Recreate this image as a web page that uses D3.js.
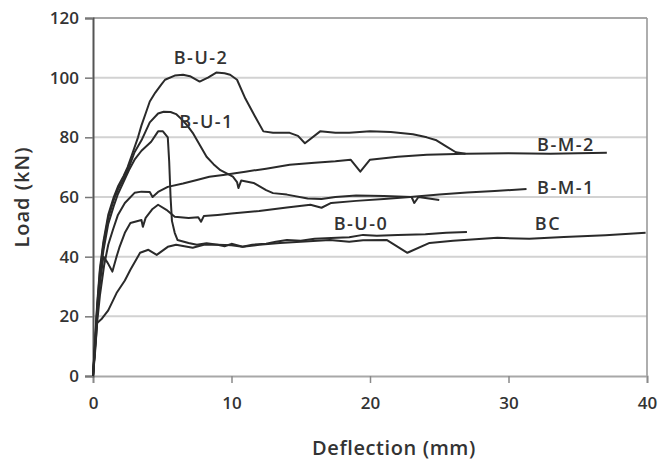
<!DOCTYPE html>
<html>
<head>
<meta charset="utf-8">
<script src="https://cdn.jsdelivr.net/npm/d3@7"></script>
<style>
  html, body { margin: 0; padding: 0; background: #fff; }
  svg { display: block; }
  text { font-family: "Open Sans", "Liberation Sans", sans-serif; }
</style>
</head>
<body>
<svg id="chart" width="658" height="461"></svg>
<script>
// ---- Data (deflection in mm, load in kN) ----
const xTicks = [0, 10, 20, 30, 40];
const yTicks = [0, 20, 40, 60, 80, 100, 120];
const xLabel = "Deflection (mm)";
const yLabel = "Load (kN)";

const seriesNames = ["B-U-2", "B-U-1", "B-U-0", "B-M-2", "B-M-1", "BC"];

const BU2 = [[0,0],[0.15,12],[0.3,24],[0.5,36],[0.75,45],[1.1,54],[1.5,60],[1.8,63.5],[2.2,67],[2.5,70],[2.8,74],[3.25,80],[3.5,84],[3.8,88],[4.1,92],[4.5,95],[4.9,97.5],[5.2,99.3],[5.9,100.7],[6.5,101],[7.0,100.5],[7.7,98.7],[8.3,100],[8.9,101.7],[9.5,101.5],[9.9,101],[10.4,99.3],[11.0,93],[11.7,87],[12.3,82],[13.0,81.5],[14.2,81.5],[14.8,80.5],[15.3,78],[16.4,82],[17.5,81.5],[18.5,81.5],[20.0,82],[21.5,81.8],[23.1,81],[24.1,80],[24.8,79],[25.5,77],[26.2,75],[26.9,74.5]];

const BU1 = [[0,0],[0.15,11],[0.3,23],[0.5,35],[0.75,44],[1.1,53],[1.5,59],[1.8,62.5],[2.2,66],[2.6,70],[3.0,75],[3.5,79],[3.8,82],[4.1,85],[4.7,88],[5.1,88.6],[5.6,88.5],[6.0,87.8],[6.3,86.5],[6.8,84],[7.2,81.5],[7.7,77.5],[8.2,73.5],[8.7,71],[9.2,69],[10.1,66.8],[10.4,65],[10.5,63],[10.7,65.5],[11.6,64.7],[12.5,62.3],[13.0,61.3],[14.0,60.8],[15.5,59.5],[16.5,59.3],[17.5,60],[19.0,60.5],[21.0,60.3],[23.0,60],[23.2,58],[23.5,60],[25.0,59]];

const BU0 = [[0,0],[0.15,10],[0.3,22],[0.5,33],[0.75,42],[1.1,51],[1.5,57],[1.8,61],[2.2,65],[2.6,69],[3.0,72.5],[3.5,75.5],[4.2,78.5],[4.7,82],[5.05,82],[5.4,80],[5.5,72],[5.6,60],[5.7,52],[5.9,48],[6.1,45.6],[6.9,44.6],[7.5,44],[8.2,44.5],[9.0,44],[9.5,43.5],[10.0,44.3],[10.8,43.3],[11.5,44],[12.5,44.3],[13.2,45],[14.0,45.6],[15.0,45.3],[16.0,46],[17.6,46.3],[18.5,46.5],[19.5,47.3],[20.5,47],[22.0,47.3],[24.0,47.5],[25.5,48],[27.0,48.3]];

const BM2 = [[0,0],[0.15,9],[0.3,18],[0.5,27],[0.8,37],[1.1,44],[1.44,49],[1.8,54],[2.3,58],[3.0,61.4],[3.5,61.8],[4.1,61.7],[4.3,60],[4.7,61.7],[5.4,63.4],[6.5,64.5],[7.5,65.7],[8.4,66.8],[9.4,67.4],[11.0,68.5],[12.5,69.5],[14.2,70.8],[16.0,71.5],[17.5,72],[18.6,72.5],[19.3,68.5],[20.0,72.5],[22.0,73.5],[24.1,74.2],[26.9,74.5],[30.0,74.7],[33.0,74.5],[35.0,74.7],[37.1,74.8]];

const BM1 = [[0,0],[0.15,10],[0.3,21],[0.5,31],[0.75,40],[1.05,38],[1.4,35],[1.7,40],[1.9,43],[2.3,48],[2.7,51.3],[3.5,52.3],[3.6,50],[3.8,53],[4.3,56],[4.7,57.4],[5.3,55.7],[5.9,53.4],[6.9,53],[7.6,53.2],[7.8,51.7],[8.0,53.6],[9.0,54],[10.0,54.5],[12.0,55.3],[14.0,56.5],[15.7,57.4],[16.5,56.4],[17.2,58],[19.0,58.7],[21.0,59.3],[22.9,60],[25.0,60.8],[27.0,61.5],[29.0,62],[31.3,62.7]];

const BCv = [[0,0],[0.15,8],[0.3,17.8],[0.6,19],[1.1,22],[1.7,27.8],[2.3,32],[2.7,35.6],[3.4,41.3],[4.0,42.3],[4.6,40.6],[5.4,43.3],[6.0,44],[7.2,43],[8.0,44],[9.0,44],[10.0,43.8],[10.8,43.3],[12.0,44],[13.5,44.6],[15.0,45],[17.1,45.6],[18.5,45],[19.5,45.5],[21.2,45.6],[22.7,41.3],[24.3,44.6],[26.0,45.3],[29.2,46.3],[31.5,46],[34.0,46.6],[37.0,47.2],[39.9,48]];

const seriesValues = [BU2, BU1, BU0, BM2, BM1, BCv];

// label anchors in data units [deflection, load]
const labelAnchors = [[7.8,104.5],[8.2,83],[19.35,48.8],[34.15,75.3],[34.15,61],[32.85,48.8]];

// ---- Drawing ----
const svg = d3.select("#chart");
const x = d3.scaleLinear().domain([0, 40]).range([93, 647]);
const y = d3.scaleLinear().domain([0, 120]).range([376, 18]);

// gridlines
svg.append("g").selectAll("line")
  .data(yTicks.filter(v => v > 0 && v < 120))
  .join("line")
  .attr("x1", x(0)).attr("x2", x(40))
  .attr("y1", d => y(d)).attr("y2", d => y(d))
  .attr("stroke", "#d2d2d2").attr("stroke-width", 2);

// top and right border
svg.append("line").attr("x1", x(0)).attr("x2", x(40)).attr("y1", y(120)).attr("y2", y(120))
  .attr("stroke", "#8a8a8a").attr("stroke-width", 1.6);
svg.append("line").attr("x1", x(40)).attr("x2", x(40)).attr("y1", y(120)).attr("y2", y(0))
  .attr("stroke", "#9a9a9a").attr("stroke-width", 1.6);

// x axis
const xAxis = svg.append("g").attr("transform", `translate(0,${y(0)})`)
  .call(d3.axisBottom(x).tickValues(xTicks).tickSize(7).tickPadding(14).tickFormat(d3.format("d")));
xAxis.select(".domain").attr("stroke", "#a8a8a8").attr("stroke-width", 2);
xAxis.selectAll(".tick line").attr("stroke", "#8a8a8a").attr("stroke-width", 1.5);
xAxis.selectAll("text").attr("font-size", 17).attr("font-weight", 600).attr("fill", "#333")
  .attr("font-family", "'Open Sans', sans-serif");

// y axis
const yAxis = svg.append("g").attr("transform", `translate(${x(0)},0)`)
  .call(d3.axisLeft(y).tickValues(yTicks).tickSize(8).tickPadding(6).tickFormat(d3.format("d")));
yAxis.select(".domain").attr("stroke", "#555").attr("stroke-width", 2);
yAxis.selectAll(".tick line").attr("stroke", "#777").attr("stroke-width", 1.5);
yAxis.selectAll("text").attr("font-size", 17).attr("font-weight", 600).attr("fill", "#333")
  .attr("font-family", "'Open Sans', sans-serif");

// series lines
const line = d3.line().x(d => x(d[0])).y(d => y(d[1]));
svg.append("g").selectAll("path")
  .data(seriesValues)
  .join("path")
  .attr("d", line)
  .attr("fill", "none")
  .attr("stroke", "#2a2a2a")
  .attr("stroke-width", 2)
  .attr("stroke-linejoin", "round");

// series labels
svg.append("g").selectAll("text")
  .data(seriesNames)
  .join("text")
  .attr("x", (d, i) => x(labelAnchors[i][0]))
  .attr("y", (d, i) => y(labelAnchors[i][1]))
  .attr("text-anchor", "middle")
  .attr("font-size", 18)
  .attr("font-weight", 600)
  .attr("letter-spacing", 1.5)
  .attr("fill", "#333")
  .text(d => d);

// axis titles
svg.append("text")
  .attr("x", 394).attr("y", 455)
  .attr("text-anchor", "middle")
  .attr("font-size", 20).attr("font-weight", 600).attr("letter-spacing", 0.6)
  .attr("fill", "#333")
  .text(xLabel);

svg.append("text")
  .attr("transform", "translate(29,197) rotate(-90)")
  .attr("text-anchor", "middle")
  .attr("font-size", 20).attr("font-weight", 600).attr("letter-spacing", 1)
  .attr("fill", "#333")
  .text(yLabel);
</script>
</body>
</html>
